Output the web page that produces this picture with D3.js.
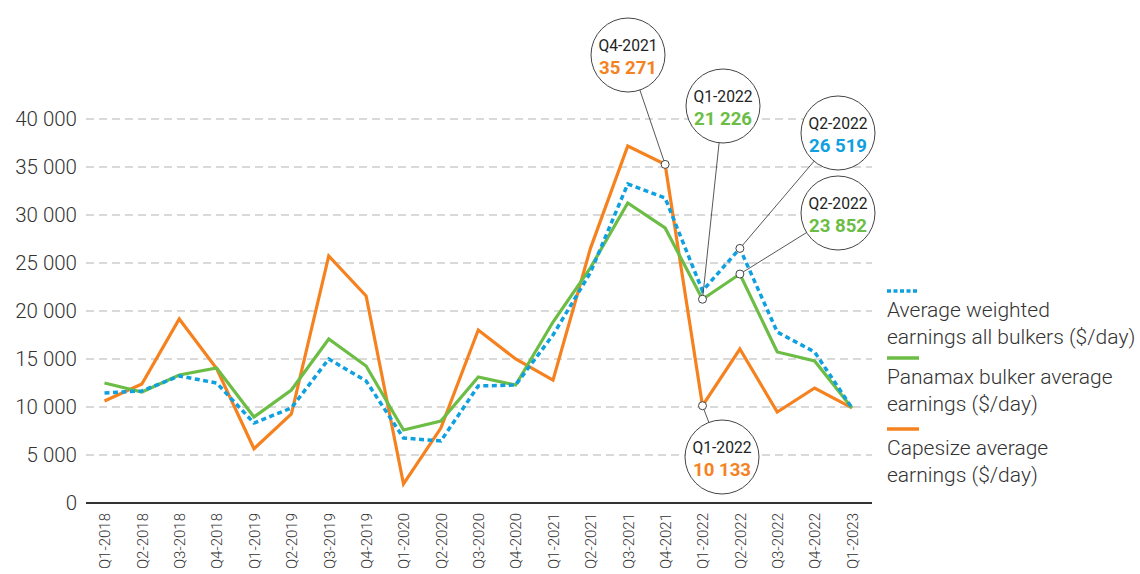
<!DOCTYPE html>
<html>
<head>
<meta charset="utf-8">
<script src="https://cdn.jsdelivr.net/npm/d3@7"></script>
<style>
  body { margin: 0; background: #fff; }
  svg text { font-family: Roboto, "Noto Sans", sans-serif; }
</style>
</head>
<body>
<div id="chart"></div>
<script>
// quarters on the x axis
const quarters = [
  "Q1-2018", "Q2-2018", "Q3-2018", "Q4-2018",
  "Q1-2019", "Q2-2019", "Q3-2019", "Q4-2019",
  "Q1-2020", "Q2-2020", "Q3-2020", "Q4-2020",
  "Q1-2021", "Q2-2021", "Q3-2021", "Q4-2021",
  "Q1-2022", "Q2-2022", "Q3-2022", "Q4-2022",
  "Q1-2023"
];

// earnings in $/day
const allBulkers = [11460, 11670, 13230, 12500, 8330, 9900, 15000, 12710, 6770, 6460,
  12190, 12290, 17500, 24000, 33230, 31770, 22100, 26519, 17810, 15730, 9900];
const panamax = [12500, 11560, 13330, 14060, 8960, 11770, 17080, 14270, 7600, 8540,
  13130, 12290, 18850, 24500, 31250, 28650, 21226, 23852, 15730, 14790, 9900];
const capesize = [10620, 12400, 19170, 14000, 5650, 9270, 25730, 21560, 1980, 7800,
  18020, 15000, 12800, 26500, 37190, 35271, 10133, 16040, 9480, 11980, 9900];

const yTicks = [0, 5000, 10000, 15000, 20000, 25000, 30000, 35000, 40000];

const seriesNames = [
  ["Average weighted", "earnings all bulkers ($/day)"],
  ["Panamax bulker average", "earnings ($/day)"],
  ["Capesize average", "earnings ($/day)"]
];

// highlighted points: series index, quarter
const callouts = [
  { s: 2, q: "Q4-2021" },
  { s: 1, q: "Q1-2022" },
  { s: 0, q: "Q2-2022" },
  { s: 1, q: "Q2-2022" },
  { s: 2, q: "Q1-2022" }
];
// where the bubbles sit
const bubblePos = [[628, 55], [723, 106], [838, 133], [838, 213], [722, 457]];

const colors = ["#0fa0e0", "#6cbd45", "#f5821f"];
const allSeries = [allBulkers, panamax, capesize];

const fmt = v => d3.format(",")(v).replace(/,/g, " ");

const svg = d3.select("#chart")
  .append("svg")
  .attr("width", 1140)
  .attr("height", 574);

const x = d3.scalePoint()
  .domain(quarters)
  .range([104.5, 852]);

const y = d3.scaleLinear()
  .domain([0, 40000])
  .range([503, 119]);

// grid
svg.selectAll(".grid")
  .data(yTicks.filter(d => d > 0))
  .enter()
  .append("line")
  .attr("x1", 86)
  .attr("x2", 872)
  .attr("y1", d => y(d))
  .attr("y2", d => y(d))
  .attr("stroke", "#d9d9d9")
  .attr("stroke-width", 2)
  .attr("stroke-dasharray", "8,5");

// y axis labels
const yAxis = d3.axisLeft(y).tickValues(yTicks).tickSize(0).tickPadding(0).tickFormat(fmt);
svg.append("g")
  .attr("transform", "translate(77,0)")
  .call(yAxis)
  .call(g => g.select(".domain").remove())
  .selectAll("text")
  .attr("font-size", 20.5)
  .attr("font-weight", 300)
  .attr("fill", "#333")
  .attr("dy", "0.34em")
  .style("font-family", "Roboto");

// x axis
const xAxis = d3.axisBottom(x).tickSize(0).tickPadding(0);
svg.append("g")
  .attr("transform", "translate(0,503)")
  .call(xAxis)
  .call(g => g.select(".domain").remove())
  .selectAll("text")
  .attr("font-size", 15)
  .attr("font-weight", 300)
  .attr("fill", "#333")
  .attr("text-anchor", "end")
  .attr("transform", "rotate(-90)")
  .attr("x", -10)
  .attr("y", 0)
  .attr("dy", "0.35em")
  .style("font-family", "Roboto");

svg.append("line")
  .attr("x1", 86).attr("x2", 872)
  .attr("y1", y(0)).attr("y2", y(0))
  .attr("stroke", "#333")
  .attr("stroke-width", 2);

// lines
const line = d3.line()
  .x((d, i) => x(quarters[i]))
  .y(d => y(d));

[2, 1, 0].forEach(s => {
  svg.append("path")
    .datum(allSeries[s])
    .attr("d", line)
    .attr("fill", "none")
    .attr("stroke", colors[s])
    .attr("stroke-width", s === 0 ? 3.5 : 3.2)
    .attr("stroke-dasharray", s === 0 ? "5,3.5" : null)
    .attr("stroke-linejoin", "miter");
});

// callouts
const r = 37;
callouts.forEach((c, i) => {
  const i0 = quarters.indexOf(c.q);
  const v = allSeries[c.s][i0];
  const px = x(c.q), py = y(v);
  const [cx, cy] = bubblePos[i];
  const dx = px - cx, dy = py - cy, len = Math.hypot(dx, dy);
  svg.append("line")
    .attr("x1", cx + r * dx / len)
    .attr("y1", cy + r * dy / len)
    .attr("x2", px)
    .attr("y2", py)
    .attr("stroke", "#444")
    .attr("stroke-width", 0.9);
  svg.append("circle")
    .attr("cx", px).attr("cy", py).attr("r", 4)
    .attr("fill", "#fff")
    .attr("stroke", "#444")
    .attr("stroke-width", 1);
  svg.append("circle")
    .attr("cx", cx).attr("cy", cy).attr("r", r)
    .attr("fill", "#fff")
    .attr("stroke", "#444")
    .attr("stroke-width", 1);
  svg.append("text")
    .attr("x", cx).attr("y", cy - 4)
    .attr("text-anchor", "middle")
    .attr("font-size", 17)
    .attr("fill", "#222")
    .attr("textLength", 59)
    .attr("lengthAdjust", "spacingAndGlyphs")
    .text(c.q);
  svg.append("text")
    .attr("x", cx).attr("y", cy + 19)
    .attr("text-anchor", "middle")
    .attr("font-size", 19)
    .attr("font-weight", 700)
    .attr("fill", colors[c.s])
    .attr("textLength", 58)
    .attr("lengthAdjust", "spacingAndGlyphs")
    .text(fmt(v));
});

// legend
const legendY = [291, 358, 429];
seriesNames.forEach((lines, s) => {
  svg.append("line")
    .attr("x1", 887).attr("x2", 919)
    .attr("y1", legendY[s]).attr("y2", legendY[s])
    .attr("stroke", colors[s])
    .attr("stroke-width", 3.5)
    .attr("stroke-dasharray", s === 0 ? "4,2.5" : null);
  lines.forEach((t, j) => {
    svg.append("text")
      .attr("x", 887)
      .attr("y", legendY[s] + 26 + j * 27)
      .attr("font-size", 21)
      .attr("font-weight", 300)
      .attr("fill", "#333")
      .text(t);
  });
});
</script>
</body>
</html>
